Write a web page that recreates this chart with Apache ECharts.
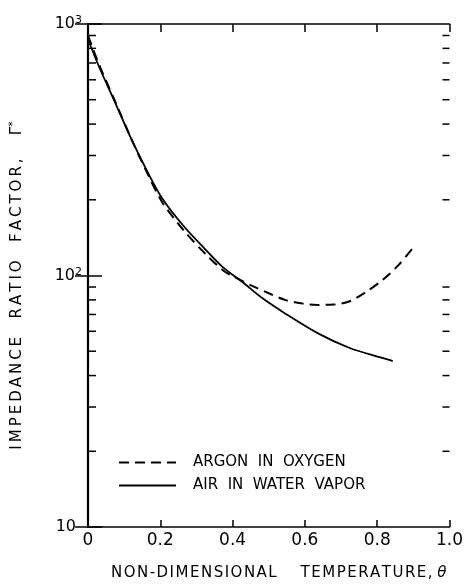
<!DOCTYPE html>
<html>
<head>
<meta charset="utf-8">
<script src="https://cdn.jsdelivr.net/npm/echarts@6/dist/echarts.min.js"></script>
<style>html,body{margin:0;padding:0;background:#fff;}#c{width:466px;height:587px;}</style>
</head>
<body>
<div id="c"></div>
<script>
// ---- data ----
const thetaArgon = [0, 0.0306, 0.0757, 0.121, 0.166, 0.205, 0.265, 0.327, 0.373, 0.40, 0.454, 0.50, 0.545, 0.59, 0.634, 0.679, 0.724, 0.769, 0.815, 0.859, 0.905];
const argon      = [900, 690, 490, 346, 252, 196, 151, 121, 105, 99.5, 91, 85, 80, 77.5, 76.4, 76.6, 79, 86, 96, 110, 132];
const thetaAir   = [0, 0.0306, 0.0757, 0.121, 0.166, 0.205, 0.265, 0.327, 0.373, 0.427, 0.481, 0.543, 0.635, 0.724, 0.814, 0.843];
const air        = [870, 676, 485, 346, 256, 203, 157, 126, 108, 94.2, 81.5, 71, 59, 51.5, 47, 45.7];
const seriesNames = ['ARGON  IN  OXYGEN', 'AIR  IN  WATER  VAPOR'];
const xTickLabels = ['0', '0.2', '0.4', '0.6', '0.8', '1.0'];
const yMinorTicks = [20, 30, 40, 50, 60, 70, 80, 90, 200, 300, 400, 500, 600, 700, 800, 900];
const xTitleWords = ['NON-DIMENSIONAL', 'TEMPERATURE,'];
const yTitle = 'IMPEDANCE  RATIO  FACTOR,   ';

const FONT = 'DejaVu Sans';
function spaced(s, sep){ return s.split('').join(sep); }

const chart = echarts.init(document.getElementById('c'), null, {renderer: 'canvas'});
const axisLine = {show: true, lineStyle: {color: '#000', width: 1.6}};

chart.setOption({
  backgroundColor: '#fff',
  animation: false,
  grid: {left: 82, right: 14, top: 24, bottom: 60},
  legend: {
    orient: 'vertical', left: 113, top: 450, itemWidth: 57, itemHeight: 14, itemGap: 8,
    itemStyle: {opacity: 0},
    textStyle: {fontFamily: FONT, fontSize: 15, color: '#000', padding: [0, 0, 0, 12]},
    data: seriesNames.map(n => ({name: n}))
  },
  xAxis: [{
    type: 'value', position: 'bottom', min: 0, max: 1, interval: 0.2,
    axisLine: axisLine, splitLine: {show: false},
    axisTick: {inside: true, length: 7, lineStyle: {color: '#000', width: 1.5}},
    axisLabel: {fontFamily: FONT, fontSize: 17, color: '#000', margin: 5,
      formatter: v => xTickLabels[Math.round(v / 0.2)]},
    name: spaced(xTitleWords[0], '\u200A') + '     ' + spaced(xTitleWords[1], '\u200A') + ' {th|θ}',
    nameLocation: 'middle', nameGap: 39,
    nameTextStyle: {fontFamily: FONT, fontSize: 15, color: '#000', padding: [0, 0, 0, 20],
      rich: {th: {fontFamily: FONT, fontSize: 15, fontStyle: 'italic', color: '#000'}}}
  }, {
    type: 'value', position: 'top', min: 0, max: 1, interval: 0.2,
    axisLine: axisLine, splitLine: {show: false},
    axisTick: {inside: true, length: 8, lineStyle: {color: '#000', width: 1.5}},
    axisLabel: {show: false}
  }],
  yAxis: [{
    type: 'log', logBase: 10, min: 10, max: 1000, position: 'left',
    axisLine: {show: true, lineStyle: {color: '#000', width: 2.2}}, splitLine: {show: false},
    axisTick: {inside: true, length: 14, lineStyle: {color: '#000', width: 1.5}},
    axisLabel: {color: '#000', margin: 6,
      formatter: v => v === 10 ? '{b|10}{pad|}' : '{b|10}{sup|' + Math.round(Math.log10(v)) + '}',
      rich: {
        b: {fontFamily: FONT, fontSize: 16, color: '#000', lineHeight: 18},
        sup: {fontFamily: FONT, fontSize: 11, color: '#000', verticalAlign: 'top', lineHeight: 18},
        pad: {width: 6}
      }},
    name: spaced(yTitle, '\u200A\u200A') + '{g|Γ}{s|*}', nameLocation: 'middle', nameGap: 62, nameRotate: 90,
    nameTextStyle: {fontFamily: FONT, fontSize: 15, color: '#000', padding: [0, 20, 0, 0],
      rich: {g: {fontFamily: FONT, fontSize: 15, color: '#000', lineHeight: 18},
             s: {fontFamily: FONT, fontSize: 11, color: '#000', verticalAlign: 'top', lineHeight: 18}}}
  }, {
    type: 'log', logBase: 10, min: 10, max: 1000, position: 'right',
    axisLine: axisLine, splitLine: {show: false},
    axisTick: {inside: true, length: 13, lineStyle: {color: '#000', width: 1.5}},
    axisLabel: {show: false}
  }],
  series: [{
    name: seriesNames[0], type: 'line', symbol: 'none', smooth: 0.3,
    xAxisIndex: 0, yAxisIndex: 0,
    lineStyle: {color: '#000', width: 2, type: [10, 6]},
    itemStyle: {color: '#000'},
    data: thetaArgon.map((t, i) => [t, argon[i]])
  }, {
    name: seriesNames[1], type: 'line', symbol: 'none', smooth: 0.3,
    xAxisIndex: 0, yAxisIndex: 0,
    lineStyle: {color: '#000', width: 1.8},
    itemStyle: {color: '#000'},
    data: thetaAir.map((t, i) => [t, air[i]])
  }, {
    name: 'minorTicks', type: 'custom', xAxisIndex: 0, yAxisIndex: 0, silent: true,
    data: yMinorTicks.map(v => [0, v]),
    renderItem: function (params, api) {
      const v = api.value(1);
      const pL = api.coord([0, v]);
      const pR = api.coord([1, v]);
      const st = {stroke: '#000', lineWidth: 1.5};
      return {type: 'group', children: [
        {type: 'line', shape: {x1: pL[0], y1: pL[1], x2: pL[0] + 8, y2: pL[1]}, style: st},
        {type: 'line', shape: {x1: pR[0], y1: pR[1], x2: pR[0] - 7, y2: pR[1]}, style: st}
      ]};
    }
  }]
});
</script>
</body>
</html>
